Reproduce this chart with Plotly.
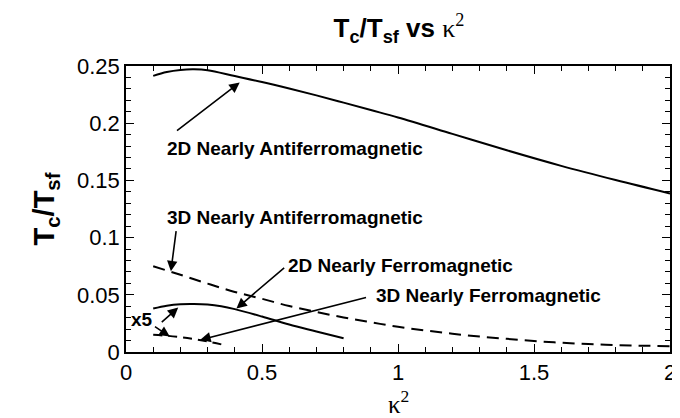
import plotly.graph_objects as go

# 2D nearly antiferromagnetic (solid)
x_2d_af = [0.1, 0.15, 0.2, 0.25, 0.3, 0.4, 0.5, 0.6, 0.7, 0.8, 0.9, 1.0, 1.2, 1.4, 1.6, 1.8, 2.0]
y_2d_af = [0.2414, 0.2448, 0.2466, 0.2471, 0.2463, 0.2412, 0.2360, 0.2303, 0.2243, 0.2180, 0.2115, 0.2050, 0.1907, 0.1763, 0.1627, 0.1503, 0.1386]

# 3D nearly antiferromagnetic (dashed)
x_3d_af = [0.1, 0.2, 0.3, 0.4, 0.5, 0.6, 0.7, 0.8, 0.9, 1.0, 1.1, 1.2, 1.3, 1.4, 1.5, 1.6, 1.7, 1.8, 1.9, 2.0]
y_3d_af = [0.075, 0.0675, 0.0598, 0.0525, 0.0465, 0.0402, 0.0350, 0.0302, 0.0260, 0.0220, 0.0188, 0.0160, 0.0135, 0.0115, 0.0096, 0.0081, 0.0069, 0.0060, 0.0055, 0.0051]

# 2D nearly ferromagnetic (solid, x5)
x_2d_f = [0.1, 0.15, 0.2, 0.25, 0.3, 0.35, 0.4, 0.5, 0.6, 0.7, 0.8]
y_2d_f = [0.038, 0.0405, 0.0418, 0.0420, 0.0415, 0.0400, 0.0375, 0.0310, 0.0240, 0.0180, 0.0120]

# 3D nearly ferromagnetic (dashed, x5)
x_3d_f = [0.1, 0.15, 0.2, 0.25, 0.3, 0.355]
y_3d_f = [0.0150, 0.0142, 0.0130, 0.0113, 0.0092, 0.0064]

x_ticks = [0, 0.5, 1, 1.5, 2]
x_tick_text = ["0", "0.5", "1", "1.5", "2"]
y_ticks = [0, 0.05, 0.1, 0.15, 0.2, 0.25]
y_tick_text = ["0", "0.05", "0.1", "0.15", "0.2", "0.25"]

SANS = "Liberation Sans, Arial, Helvetica"
SERIF = "Liberation Serif, Times New Roman, serif"

fig = go.Figure()
line_style = dict(color="black", width=2)
fig.add_trace(go.Scatter(x=x_2d_af, y=y_2d_af, mode="lines", line=dict(line_style, shape="spline"), showlegend=False))
fig.add_trace(go.Scatter(x=x_3d_af, y=y_3d_af, mode="lines", line=dict(line_style, shape="spline", dash="12px,7px"), showlegend=False))
fig.add_trace(go.Scatter(x=x_2d_f, y=y_2d_f, mode="lines", line=dict(line_style, shape="spline"), showlegend=False))
fig.add_trace(go.Scatter(x=x_3d_f, y=y_3d_f, mode="lines", line=dict(line_style, shape="spline", dash="9px,6px"), showlegend=False))

labels = [
    ("2D Nearly Antiferromagnetic", 0.142, 0.1780),
    ("3D Nearly Antiferromagnetic", 0.142, 0.1180),
    ("2D Nearly Ferromagnetic", 0.590, 0.0755),
    ("3D Nearly Ferromagnetic", 0.913, 0.0495),
    ("x5", 0.010, 0.0285),
]
for txt, x, y in labels:
    fig.add_annotation(x=x, y=y, text="<b>%s</b>" % txt, showarrow=False,
                       xanchor="left", yanchor="middle",
                       font=dict(family=SANS, size=19, color="black"))

arrows = [
    # (tip_x, tip_y, tail_x, tail_y)
    (0.418, 0.2356, 0.182, 0.1925),
    (0.165, 0.0705, 0.185, 0.107),
    (0.406, 0.038, 0.587, 0.0747),
    (0.273, 0.0106, 0.888, 0.048),
    (0.192, 0.0388, 0.126, 0.025),
    (0.161, 0.0135, 0.101, 0.023),
]
for tx, ty, sx, sy in arrows:
    fig.add_annotation(x=tx, y=ty, ax=sx, ay=sy, xref="x", yref="y", axref="x", ayref="y",
                       text="", showarrow=True, arrowhead=2, arrowsize=1.3, arrowwidth=1.6,
                       arrowcolor="black", standoff=0, startstandoff=0)

# x-axis title (kappa squared) placed at the bottom of the figure
fig.add_annotation(x=0.5, y=-0.238, xref="paper", yref="paper", xanchor="center", yanchor="bottom",
                   text="κ<sup>2</sup>", showarrow=False,
                   font=dict(family=SERIF, size=25, color="black"))

axis_common = dict(showline=True, linecolor="black", linewidth=1.5, mirror="ticks",
                   ticks="inside", ticklen=8, tickwidth=1.2, tickcolor="black",
                   showgrid=False, zeroline=False,
                   tickfont=dict(family=SANS, size=22, color="black"))

fig.update_xaxes(range=[0, 2], tickvals=x_ticks, ticktext=x_tick_text,
                 minor=dict(dtick=0.1, ticks="inside", ticklen=5, tickcolor="black", tickwidth=1),
                 **axis_common)
fig.update_yaxes(range=[0, 0.25], tickvals=y_ticks, ticktext=y_tick_text,
                 minor=dict(dtick=0.01, ticks="inside", ticklen=5, tickcolor="black", tickwidth=1),
                 title=dict(text="<b>T<sub>c</sub>/T<sub>sf</sub></b>",
                            font=dict(family=SANS, size=29, color="black"), standoff=14),
                 **axis_common)

fig.update_layout(
    width=680, height=418,
    margin=dict(l=118, r=15, t=58, b=74),
    paper_bgcolor="white", plot_bgcolor="white",
    title=dict(text="<b>T<sub>c</sub>/T<sub>sf</sub> vs </b><span style='font-family:%s'>κ<sup>2</sup></span>" % SERIF,
               x=0.575, xanchor="center", y=0.952, yanchor="middle",
               font=dict(family=SANS, size=26, color="black")),
)

fig.write_html("out.html")
